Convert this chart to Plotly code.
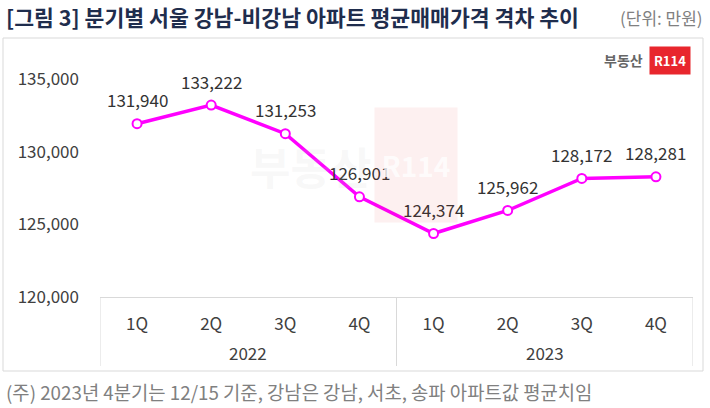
import plotly.graph_objects as go

years = ["2022"] * 4 + ["2023"] * 4
quarters = ["1Q", "2Q", "3Q", "4Q", "1Q", "2Q", "3Q", "4Q"]
values = [131940, 133222, 131253, 126901, 124374, 125962, 128172, 128281]
y_ticks = [120000, 125000, 130000, 135000]

FONT = "Noto Sans CJK KR"
W, H = 710, 408
L, R, T, B = 100, 17, 43, 111
pw, ph = W - L - R, H - T - B

def px(x):
    return (x - L) / pw

def py(y):
    return (H - B - y) / ph

idx = list(range(len(values)))

fig = go.Figure()
fig.add_trace(go.Scatter(
    x=idx, y=values,
    mode="lines+markers",
    line=dict(color="#FF00FF", width=3.5),
    marker=dict(size=9, color="white", line=dict(color="#FF00FF", width=2)),
    cliponaxis=False,
    showlegend=False,
))

annotations = []
# data labels
for i, v in zip(idx, values):
    annotations.append(dict(
        x=i, y=v, xref="x", yref="y", text=f"{v:,}", showarrow=False,
        yshift=24, xanchor="center", yanchor="middle",
        font=dict(family=FONT, size=17, color="#333333"),
    ))

# year group labels and dividers
groups = []
for y in years:
    if y not in groups:
        groups.append(y)
shapes = [dict(
    type="rect", xref="paper", yref="paper",
    x0=px(3), x1=px(703), y0=py(371), y1=py(38),
    line=dict(color="#d9d9d9", width=1), layer="below",
)]
bounds = [-0.5]
for g in groups:
    members = [i for i, y in zip(idx, years) if y == g]
    annotations.append(dict(
        x=sum(members) / len(members), y=py(352), xref="x", yref="paper",
        text=g, showarrow=False, xanchor="center", yanchor="middle",
        font=dict(family=FONT, size=17, color="#404040"),
    ))
    bounds.append(members[-1] + 0.5)
for b in bounds:
    shapes.append(dict(
        type="line", xref="x", yref="paper", x0=b, x1=b, y0=0, y1=py(366),
        line=dict(color="#d9d9d9", width=1),
    ))

annotations += [
    dict(text="<b>[그림 3] 분기별 서울 강남-비강남 아파트 평균매매가격 격차 추이</b>",
         xref="paper", yref="paper", x=px(4), y=py(17), xanchor="left", yanchor="middle",
         showarrow=False, font=dict(family=FONT, size=21.6, color="#1f2d4d")),
    dict(text="(단위: 만원)",
         xref="paper", yref="paper", x=px(705), y=py(18), xanchor="right", yanchor="middle",
         showarrow=False, font=dict(family=FONT, size=17, color="#808080")),
    dict(text="(주) 2023년 4분기는 12/15 기준, 강남은 강남, 서초, 송파 아파트값 평균치임",
         xref="paper", yref="paper", x=px(4), y=py(391), xanchor="left", yanchor="middle",
         showarrow=False, font=dict(family=FONT, size=18.8, color="#808080")),
    dict(text="<b>부동산</b>",
         xref="paper", yref="paper", x=px(645), y=py(60), xanchor="right", yanchor="middle",
         showarrow=False, font=dict(family=FONT, size=14, color="#666666")),
    dict(text="<b>R114</b>",
         xref="paper", yref="paper", x=px(649), y=py(60), xanchor="left", yanchor="middle",
         showarrow=False, bgcolor="#e8262d", borderpad=4,
         font=dict(family=FONT, size=13, color="white")),
    dict(text="<b>부동산</b>",
         xref="paper", yref="paper", x=px(373), y=py(166), xanchor="right", yanchor="middle",
         showarrow=False, font=dict(family=FONT, size=44, color="rgba(200,200,200,0.13)")),
    dict(text="<b>R114</b>",
         xref="paper", yref="paper", x=px(416), y=py(165), xanchor="center", yanchor="middle",
         showarrow=False, bgcolor="rgba(232,38,45,0.07)", width=80, height=112,
         font=dict(family=FONT, size=28, color="rgba(255,255,255,0.8)")),
]

fig.update_layout(
    width=W, height=H,
    margin=dict(l=L, r=R, t=T, b=B),
    paper_bgcolor="white", plot_bgcolor="white",
    font=dict(family=FONT, color="#404040"),
    xaxis=dict(
        range=[-0.5, len(values) - 0.5],
        tickvals=idx, ticktext=quarters,
        showline=True, linecolor="#d9d9d9", linewidth=1,
        showgrid=False, zeroline=False, ticks="",
        ticklabelstandoff=12,
        tickfont=dict(family=FONT, size=17, color="#404040"),
    ),
    yaxis=dict(
        range=[120000, 137500],
        tickvals=y_ticks,
        tickformat=",",
        showgrid=False, zeroline=False, showline=False,
        ticklabelstandoff=20,
        tickfont=dict(family=FONT, size=17, color="#404040"),
    ),
    shapes=shapes,
    annotations=annotations,
)

fig.write_html("out.html")
